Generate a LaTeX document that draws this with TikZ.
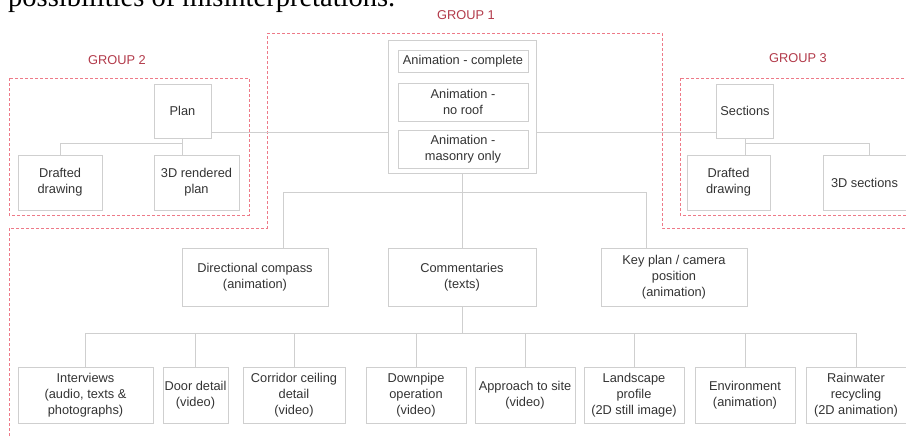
\documentclass[tikz,border=0pt]{standalone}
\usepackage{fontspec}
\setmainfont{Liberation Sans}
\newfontfamily\bodyserif{Liberation Serif}
\definecolor{boxline}{HTML}{CFCFCF}
\definecolor{boxtext}{HTML}{333333}
\definecolor{grpline}{HTML}{EE7A88}
\definecolor{grptext}{HTML}{B23A4A}
\begin{document}
\begin{tikzpicture}[x=1pt,y=-1pt,
    every node/.style={inner sep=1pt, font=\fontsize{12.8}{16}\selectfont, text=boxtext, align=center},
    item/.style={draw=boxline, line width=0.9pt, minimum width=#1, minimum height=55pt},
    item/.default=100pt,
    link/.style={draw=boxline, line width=0.9pt},
    grp/.style={draw=grpline, line width=0.8pt, dash pattern=on 3pt off 2pt},
    grplabel/.style={font=\fontsize{12.8}{14}\selectfont, text=grptext}]
    \useasboundingbox (0,0) rectangle (906,437);
    % text of the page above the figure
    \node[anchor=base west, inner sep=0pt, text=black, font=\bodyserif\fontsize{28.5}{30}\selectfont] (pagetext) at (8,6) {possibilities of misinterpretations.};
    % group outlines
    \draw[grp] (9,78) rectangle (249,215);
    \draw[grp] (680,78) rectangle (915,215);
    \draw[grp] (267,33) -- (662,33) -- (662,228) -- (915,228) -- (915,445) -- (9,445) -- (9,228) -- (267,228) -- cycle;
    \node[grplabel] (g1) at (466,15) {GROUP 1};
    \node[grplabel] (g2) at (117,60) {GROUP 2};
    \node[grplabel] (g3) at (798,58) {GROUP 3};
    % group 1: animations
    \node[item=148pt, minimum height=133pt] (anim) at (462,106.5) {};
    \node[item=130pt, minimum height=22pt] (animfull) at (463,61) {Animation - complete};
    \node[item=130pt, minimum height=38pt] (animroof) at (463,102) {Animation -\\no roof};
    \node[item=130pt, minimum height=38pt] (animwall) at (463,149) {Animation -\\masonry only};
    % group 2: plan
    \node[item=57pt, minimum height=54pt] (plan) at (182.5,111) {Plan};
    \node[item=84pt] (plandraft) at (60,182.5) {Drafted\\drawing};
    \node[item=85pt] (planrender) at (196.5,182.5) {3D rendered\\plan};
    % group 3: sections
    \node[item=57pt, minimum height=54pt] (sect) at (745,111) {Sections};
    \node[item=83pt] (sectdraft) at (728.5,182.5) {Drafted\\drawing};
    \node[item=83pt] (sect3d) at (864.5,182.5) {3D sections};
    % second row
    \node[item=146pt, minimum height=58pt] (compass) at (255,277) {Directional compass\\(animation)};
    \node[item=148pt, minimum height=58pt] (comment) at (462,277) {Commentaries\\(texts)};
    \node[item=146pt, minimum height=58pt] (keyplan) at (674,277) {Key plan / camera\\position\\(animation)};
    % third row
    \node[item=135pt, minimum height=56pt] (interview) at (85.5,395) {Interviews\\(audio, texts \&\\photographs)};
    \node[item=65pt, minimum height=56pt] (door) at (195.5,395) {Door detail\\(video)};
    \node[item=102pt, minimum height=56pt] (ceiling) at (294,395) {Corridor ceiling\\detail\\(video)};
    \node[item, minimum height=56pt] (downpipe) at (416,395) {Downpipe\\operation\\(video)};
    \node[item, minimum height=56pt] (approach) at (525,395) {Approach to site\\(video)};
    \node[item, minimum height=56pt] (landscape) at (634,395) {Landscape\\profile\\(2D still image)};
    \node[item, minimum height=56pt] (environ) at (745,395) {Environment\\(animation)};
    \node[item, minimum height=56pt] (rainwater) at (856,395) {Rainwater\\recycling\\(2D animation)};
    % connectors
    \draw[link] ([yshift=-21pt]plan.east) -- ([yshift=-21pt]plan.east -| anim.west);
    \draw[link] ([yshift=-21pt]sect.west) -- ([yshift=-21pt]sect.west -| anim.east);
    \draw[link] (plan.south) -- (planrender.north -| plan.south);
    \draw[link] (plandraft.north) -- ++(0,-11) -| (plan.south);
    \draw[link] (sect.south) -- (sectdraft.north -| sect.south);
    \draw[link] ([xshift=4.5pt]sect3d.north) -- ++(0,-11) -| (sect.south);
    \draw[link] (anim.south) -- (comment.north);
    \draw[link] ([xshift=28pt]compass.north) -- ++(0,-55) -| ([xshift=-28pt]keyplan.north);
    \draw[link] (comment.south) -- ++(0,28) coordinate (hub);
    \draw[link] (interview.north) -- ++(0,-33) -| (rainwater.north);
    \foreach \leaf in {door,ceiling,downpipe,approach,landscape,environ}
      \draw[link] (\leaf.north) -- (\leaf.north |- hub);
\end{tikzpicture}
\end{document}
